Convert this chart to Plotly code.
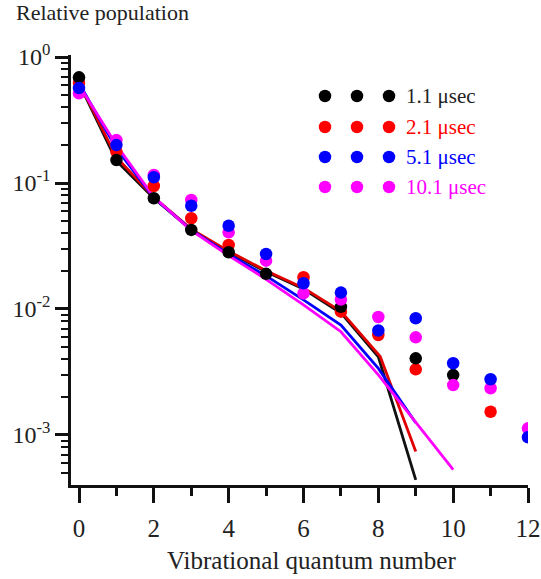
import plotly.graph_objects as go

# ---------------- data ----------------
v = list(range(13))

pts_11 = [0.690, 0.152, 0.0757, 0.0424, 0.0282, 0.0190, None, 0.0104, None, 0.00406, 0.00299, None, None]
pts_21 = [0.625, 0.177, 0.0946, 0.0525, 0.0322, None, 0.0179, 0.00952, 0.00622, 0.00332, None, 0.00153, None]
pts_51 = [0.567, 0.200, 0.111, 0.0660, 0.0458, 0.0273, 0.0160, 0.0135, 0.00675, 0.00844, 0.00371, 0.00277, 0.00096]
pts_101 = [0.515, 0.219, 0.116, 0.0733, 0.0406, 0.0242, 0.0133, 0.0119, 0.00864, 0.00596, 0.00249, 0.00235, 0.00113]

line_x_11 = [0, 1, 2, 3, 4, 5, 6, 7, 8, 9]
line_11 = [0.62, 0.150, 0.0757, 0.0424, 0.0282, 0.0198, 0.0144, 0.0093, 0.00418, 0.00044]
line_x_21 = [0, 1, 2, 3, 4, 5, 6, 7, 8.05, 9]
line_21 = [0.63, 0.160, 0.0770, 0.0430, 0.0288, 0.0201, 0.0147, 0.0096, 0.00420, 0.00074]
line_x_51 = [0, 1, 2, 3, 4, 5, 6, 7, 8, 9]
line_51 = [0.62, 0.188, 0.0765, 0.0425, 0.0272, 0.0183, 0.0118, 0.00746, 0.00338, 0.00125]
line_x_101 = [0, 1, 2, 3, 4, 5, 6, 7, 8, 9, 10]
line_101 = [0.60, 0.200, 0.0775, 0.0420, 0.0265, 0.0172, 0.0108, 0.0066, 0.0030, 0.00127, 0.00053]

labels = ["1.1 \u03bcsec", "2.1 \u03bcsec", "5.1 \u03bcsec", "10.1 \u03bcsec"]
x_ticks = [0, 2, 4, 6, 8, 10, 12]
y_ticks = [1, 0.1, 0.01, 0.001]
y_ticktext = ["10<sup>0</sup>", "10<sup>-1</sup>", "10<sup>-2</sup>", "10<sup>-3</sup>"]

# ---------------- style ----------------
colors = ["#000000", "#ff0000", "#0000ff", "#ff00ff"]
line_colors = ["#111111", "#e00000", "#0000ff", "#ff00ff"]
text_colors = ["#222222", "#ff0000", "#0000ff", "#ff00ff"]
FONT = "Liberation Serif"
W, H = 541, 579
L, R, T, B = 71, 13, 55, 94
PW, PH = W - L - R, H - T - B

fig = go.Figure()

line_sets = [(line_x_11, line_11), (line_x_21, line_21), (line_x_51, line_51), (line_x_101, line_101)]
for (lx, ly), c in zip(line_sets, line_colors):
    fig.add_trace(go.Scatter(x=lx, y=ly, mode="lines", line=dict(color=c, width=2.8),
                             showlegend=False, hoverinfo="skip"))

pt_sets = [pts_21, pts_11, pts_101, pts_51]
pt_cols = [colors[1], colors[0], colors[3], colors[2]]
for ys, c in zip(pt_sets, pt_cols):
    fig.add_trace(go.Scatter(x=v, y=ys, mode="markers",
                             marker=dict(color=c, size=12.5, line=dict(width=0)),
                             showlegend=False))

# custom legend in an overlay pixel-space axis
leg_x = [325, 357, 389]
leg_y = [96, 127, 157, 187]
for i, lab in enumerate(labels):
    fig.add_trace(go.Scatter(x=leg_x, y=[leg_y[i]] * 3, mode="markers",
                             marker=dict(color=colors[i], size=12.5, line=dict(width=0)),
                             xaxis="x2", yaxis="y2", showlegend=False, hoverinfo="skip"))
    fig.add_annotation(x=404, y=leg_y[i], xref="x2", yref="y2", text=lab, showarrow=False,
                       xanchor="left", yanchor="middle",
                       font=dict(family=FONT, size=21, color=text_colors[i]))

fig.add_annotation(x=(14 - L) / PW, y=(H - B - 13) / PH, xref="paper", yref="paper",
                   text="Relative population", showarrow=False, xanchor="left", yanchor="middle",
                   font=dict(family=FONT, size=22, color="#222222"))
fig.add_annotation(x=(311 - L) / PW, y=(H - B - 560) / PH, xref="paper", yref="paper",
                   text="Vibrational quantum number", showarrow=False, xanchor="center", yanchor="middle",
                   font=dict(family=FONT, size=25, color="#222222"))

fig.update_layout(
    width=W, height=H,
    margin=dict(l=L, r=R, t=T, b=B),
    paper_bgcolor="white", plot_bgcolor="white",
    xaxis=dict(range=[-0.214, 12], tickvals=x_ticks, ticks="outside", ticklen=15, tickwidth=2.5,
               tickcolor="#111", showline=True, linecolor="#111", linewidth=2.5, automargin=False,
               showgrid=False, zeroline=False, tickfont=dict(size=25, family=FONT, color="#222222"),
               ticklabelstandoff=4,
               minor=dict(dtick=1, ticks="outside", ticklen=8, tickwidth=2.5, tickcolor="#111", showgrid=False)),
    yaxis=dict(type="log", range=[-3.397, 0.016], tickvals=y_ticks, ticktext=y_ticktext, automargin=False,
               ticks="outside", ticklen=13, tickwidth=2.5, tickcolor="#111",
               showline=True, linecolor="#111", linewidth=2.5, showgrid=False, zeroline=False,
               tickfont=dict(size=24, family=FONT, color="#222222"),
               minor=dict(dtick="D1", ticks="outside", ticklen=7, tickwidth=2, tickcolor="#111", showgrid=False)),
    xaxis2=dict(overlaying="x", range=[L, W - R], visible=False, fixedrange=True),
    yaxis2=dict(overlaying="y", range=[H - B, T], visible=False, fixedrange=True),
)

fig.write_html("out.html")
